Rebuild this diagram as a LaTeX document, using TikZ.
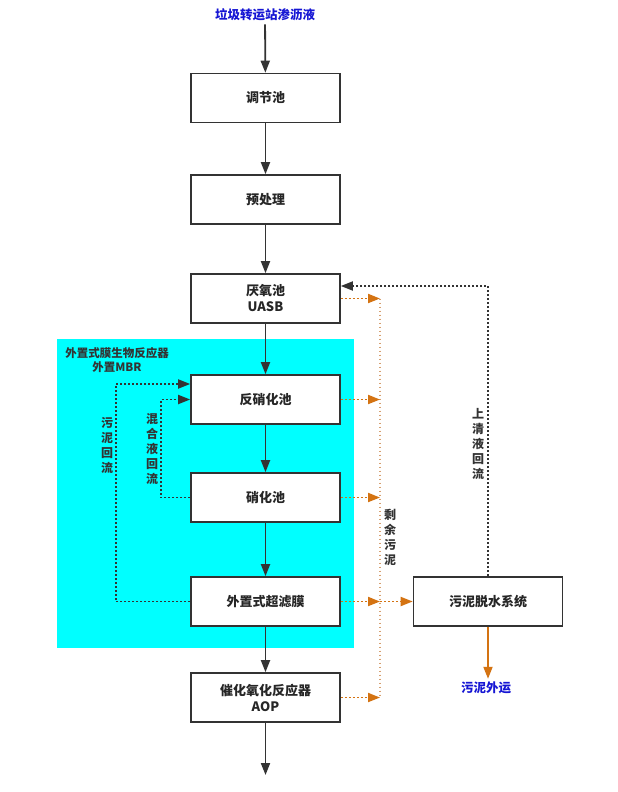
\documentclass[tikz,border=0pt]{standalone}
\usepackage{fontspec}
\setmainfont{Noto Sans CJK SC}
\usepackage{tikz}
\usetikzlibrary{arrows.meta,positioning,calc}
\definecolor{flowgray}{RGB}{51,51,51}
\definecolor{mbrcyan}{RGB}{0,255,255}
\definecolor{sludgeorange}{RGB}{212,115,18}
\definecolor{sludgetan}{RGB}{214,160,112}
\definecolor{labelblue}{RGB}{22,22,212}

\begin{document}
\begin{tikzpicture}[
  x=1pt, y=-1pt,
  font=\bfseries\fontsize{13}{15}\selectfont,
  unitbox/.style={draw=flowgray, line width=1.6pt, fill=white, align=center,
              minimum width=149pt, minimum height=49pt, inner sep=2pt,
              text=black!85, font=\bfseries\fontsize{13}{16}\selectfont},
  arr/.style={-{Triangle[length=12pt,width=9pt]}, line width=1.8pt, flowgray},
  darr/.style={-{Triangle[length=12pt,width=9pt]}, line width=1.8pt, flowgray,
              dash pattern=on 1.8pt off 2.2pt},
  oarr/.style={-{Triangle[length=12pt,width=9pt]}, line width=1.8pt, sludgeorange,
              dash pattern=on 1.8pt off 2.2pt},
  oline/.style={line width=1.8pt, sludgetan, dash pattern=on 1.8pt off 2.2pt},
  osolid/.style={-{Triangle[length=12pt,width=9pt]}, line width=1.8pt, sludgeorange},
  vlbl/.style={align=center, inner sep=1pt, text=flowgray,
              font=\bfseries\fontsize{12}{15}\selectfont},
  blbl/.style={text=labelblue, inner sep=3pt, font=\bfseries\fontsize{12.5}{15}\selectfont}
]
\useasboundingbox (0,0) rectangle (618,792);
\fill[white] (0,0) rectangle (618,792);

% MBR zone
\fill[mbrcyan] (57,339) rectangle (354,648);
\node[align=center, text=flowgray, font=\bfseries\fontsize{11.5}{13.5}\selectfont]
  (mbrlbl) at (117,360) {外置式膜生物反应器\\外置MBR};

% main line
\node[blbl] (src) at (265,15) {垃圾转运站渗沥液};
\node[unitbox] (tiaojie) at (265.5,98) {调节池};
\node[unitbox] (yuchuli) at (265.5,199.5) {预处理};
\node[unitbox] (uasb) at (265.5,298.5) {厌氧池\\UASB};
\node[unitbox] (fanxiao) at (265.5,399.5) {反硝化池};
\node[unitbox] (xiaohua) at (265.5,497.5) {硝化池};
\node[unitbox] (uf) at (265.5,601.5) {外置式超滤膜};
\node[unitbox] (aop) at (265.5,697.5) {催化氧化反应器\\AOP};
\node[unitbox] (tuoshui) at (488,601.5) {污泥脱水系统};
\node[blbl] (waiyun) at (486,688) {污泥外运};
\coordinate (outlet) at (265.5,775);

\draw[arr] (src)--(tiaojie);
\draw[arr] (tiaojie)--(yuchuli);
\draw[arr] (yuchuli)--(uasb);
\draw[arr] (uasb)--(fanxiao);
\draw[arr] (fanxiao)--(xiaohua);
\draw[arr] (xiaohua)--(uf);
\draw[arr] (uf)--(aop);
\draw[arr] (aop)--(outlet);

% return lines
\coordinate (slx) at (116,0);
\coordinate (mlx) at (161,0);
\draw[darr] (uf.west) -- (uf.west -| slx) |- ([yshift=15.5pt]fanxiao.west);
\draw[darr] (xiaohua.west) -- (xiaohua.west -| mlx) |- (fanxiao.west);
\draw[darr] (tuoshui.north) |- ([yshift=12.5pt]uasb.east);

% excess sludge
\coordinate (spx) at (380,0);
\draw[oline] (uasb.east -| spx) -- (aop.east -| spx);
\foreach \u in {uasb,fanxiao,xiaohua,uf,aop}
  \draw[oarr] (\u.east) -- (\u.east -| spx);
\draw[oarr] (uf.east -| spx) -- (tuoshui.west);
\draw[osolid] (tuoshui.south) -- (tuoshui.south |- waiyun.north);

\node[vlbl] (wnhl) at (107,445.5) {污\\泥\\回\\流};
\node[vlbl] (hhyhl) at (152,449) {混\\合\\液\\回\\流};
\node[vlbl] (sywn) at (390,537.5) {剩\\余\\污\\泥};
\node[vlbl] (sqyhl) at (478,444) {上\\清\\液\\回\\流};
\end{tikzpicture}
\end{document}
